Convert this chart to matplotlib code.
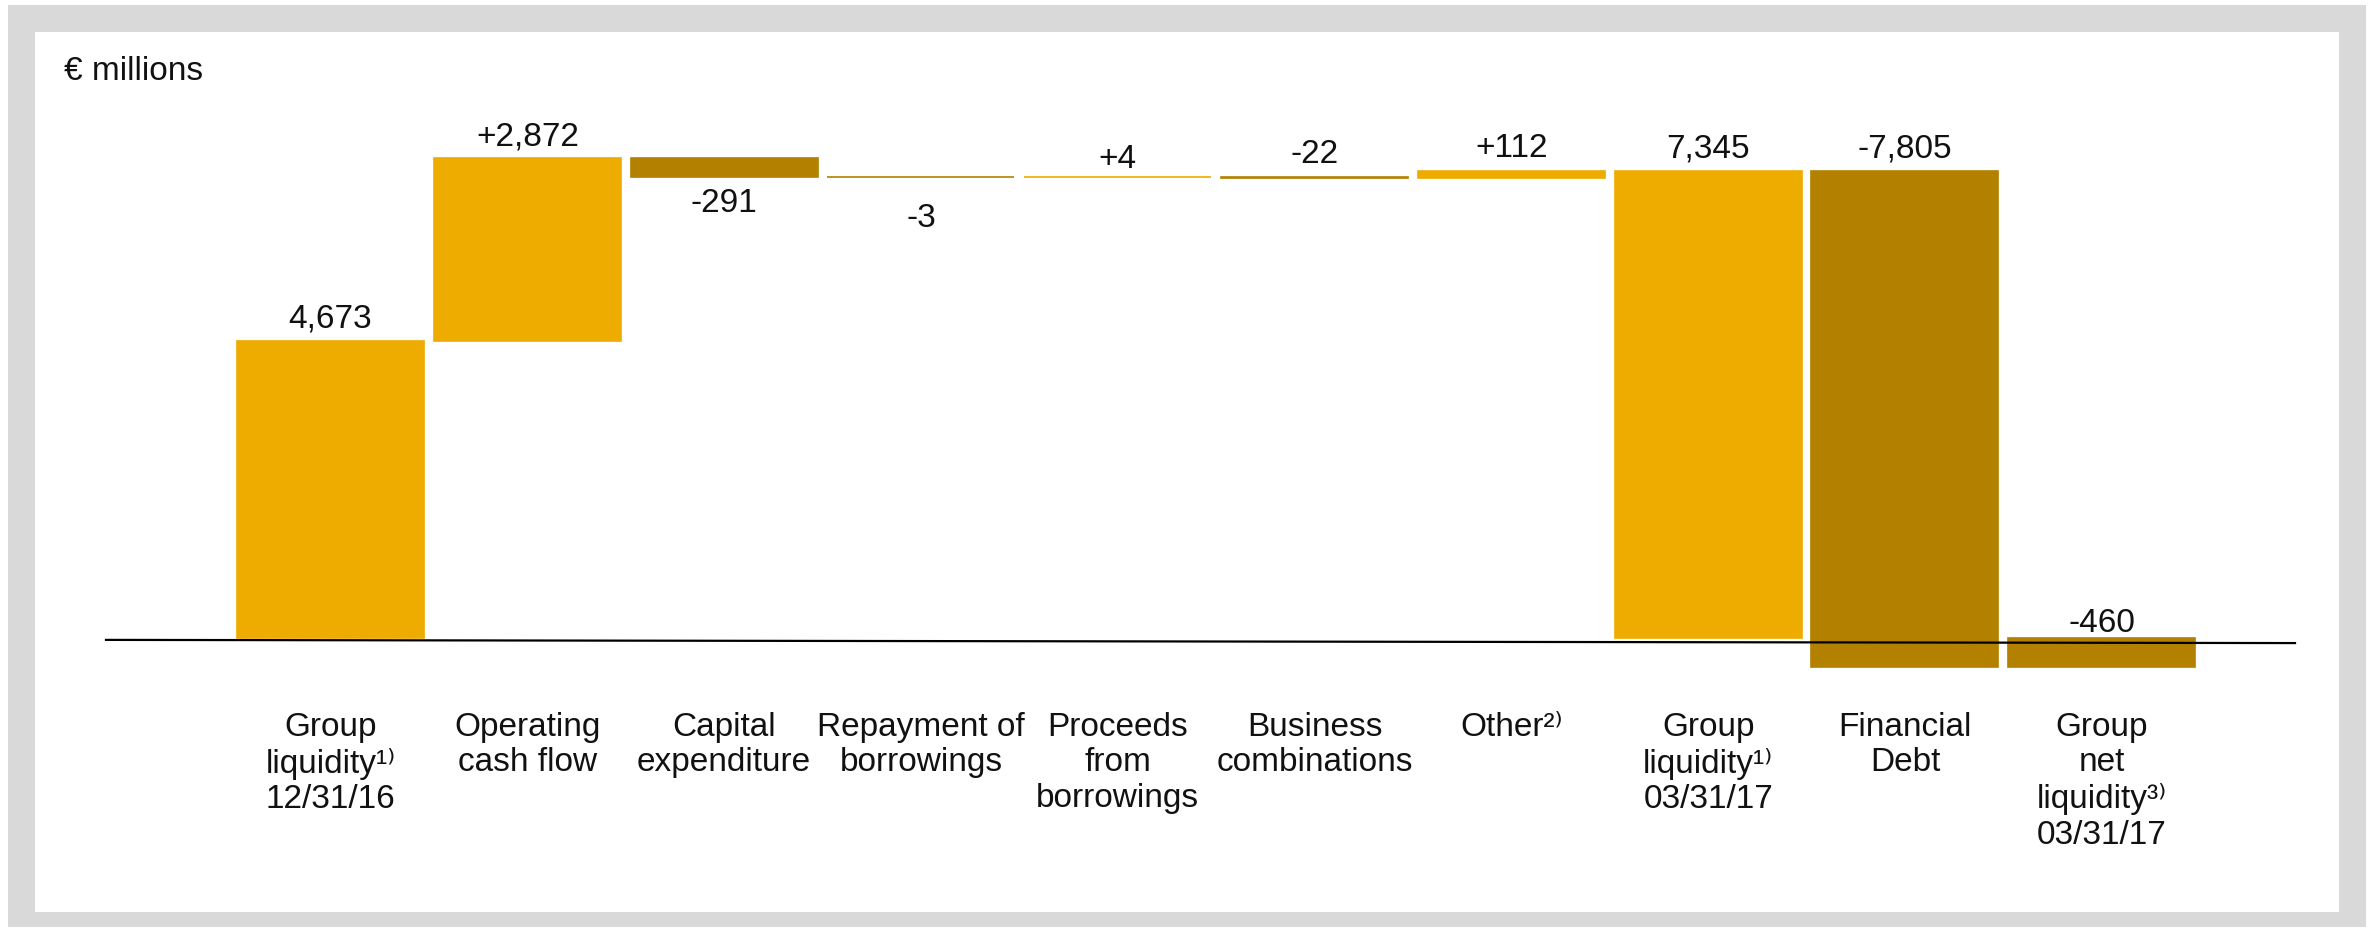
import matplotlib
matplotlib.use("Agg")
import matplotlib.pyplot as plt
from matplotlib.patches import Rectangle

plt.rcParams["font.family"] = ["Liberation Sans", "DejaVu Sans"]

# data
categories = [
    "Group\nliquidity\u00b9\u207e\n12/31/16",
    "Operating\ncash flow",
    "Capital\nexpenditure",
    "Repayment of\nborrowings",
    "Proceeds\nfrom\nborrowings",
    "Business\ncombinations",
    "Other\u00b2\u207e",
    "Group\nliquidity\u00b9\u207e\n03/31/17",
    "Financial\nDebt",
    "Group\nnet\nliquidity\u00b3\u207e\n03/31/17",
]
values = [4673, 2872, -291, -3, 4, -22, 112, 7345, -7805, -460]
is_total = [True, False, False, False, False, False, False, True, False, True]
value_labels = ["4,673", "+2,872", "-291", "-3", "+4", "-22", "+112", "7,345", "-7,805", "-460"]

# label placement (style)
label_side = ["above", "above", "below", "below", "above", "above", "above", "above", "above", "above"]
label_offset = [10, 9, -8, -19, 6, 10, 10, 10, 10, 4]

LIGHT = "#EFAC00"
DARK = "#B38000"
FRAME = "#D9D9D9"
TEXT = "#111111"
FS = 24

W, H = 2372, 933
fig = plt.figure(figsize=(W / 100, H / 100), dpi=100)
fig.patch.set_facecolor("white")

# grey frame with white panel
fig.patches.append(Rectangle((8 / W, 1 - 927 / H), (2366 - 8) / W, (927 - 5) / H,
                             transform=fig.transFigure, facecolor=FRAME, edgecolor="none", zorder=-2))
fig.patches.append(Rectangle((35 / W, 1 - 912 / H), (2339 - 35) / W, (912 - 32) / H,
                             transform=fig.transFigure, facecolor="white", edgecolor="none", zorder=-1))

ax = fig.add_axes([106 / W, 1 - 912 / H, (2295 - 106) / W, (912 - 30) / H])
ax.patch.set_alpha(0)

# waterfall bottoms
bottoms = []
heights = []
running = 0
for v, tot in zip(values, is_total):
    if tot:
        bottoms.append(0)
        heights.append(v)
        running = v
    else:
        bottoms.append(running)
        heights.append(v)
        running += v

x = list(range(len(values)))
colors = [LIGHT if v > 0 else DARK for v in values]
ax.bar(x, heights, bottom=bottoms, width=0.95, color=colors,
       edgecolor=colors, linewidth=1.2, zorder=2)

for i in x:
    top = max(bottoms[i], bottoms[i] + heights[i])
    low = min(bottoms[i], bottoms[i] + heights[i])
    if label_side[i] == "above":
        ax.annotate(value_labels[i], (i, top), xytext=(0, label_offset[i]),
                    textcoords="offset points", ha="center", va="baseline",
                    fontsize=FS, color=TEXT)
    else:
        ax.annotate(value_labels[i], (i, low), xytext=(0, label_offset[i]),
                    textcoords="offset points", ha="center", va="top",
                    fontsize=FS, color=TEXT)

ax.set_xlim(-1.141, 9.982)
ax.set_ylim(-4310, 9563)

# slightly sloping baseline, as in the original
ax.plot([-1.141, 9.982], [-30, -80], color="black", lw=1.6, zorder=3, clip_on=False)

ax.set_xticks(x, categories, linespacing=1.3)
ax.spines["bottom"].set_position(("data", 0))
for s in ax.spines.values():
    s.set_visible(False)
ax.tick_params(axis="x", length=0, pad=53, labelsize=FS, labelcolor=TEXT)
ax.set_yticks([])

fig.text(64 / W, 1 - 80 / H, "\u20ac millions", fontsize=FS, va="baseline", ha="left", color=TEXT)

fig.savefig("out.png", dpi=100)
